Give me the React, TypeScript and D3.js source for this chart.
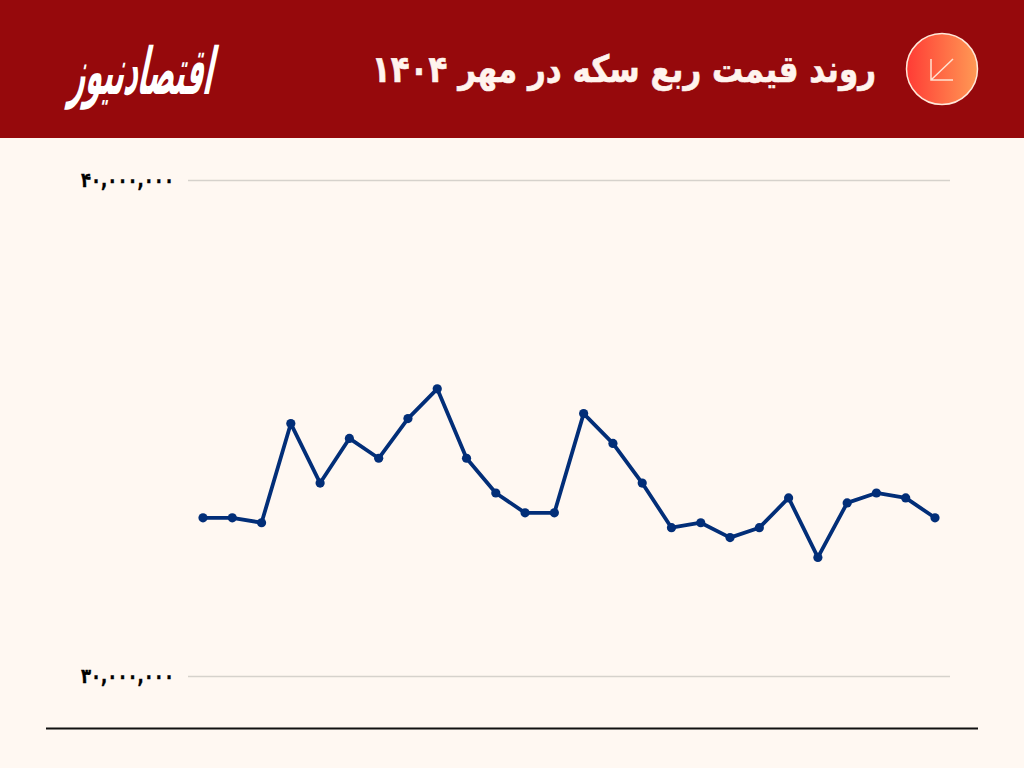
import React from "react";
import * as d3 from "d3";

const days = d3.range(1, 27);
const prices = [33.2, 33.2, 33.1, 35.1, 33.9, 34.8, 34.4, 35.2, 35.8, 34.4, 33.7, 33.3, 33.3, 35.3, 34.7, 33.9, 33.0, 33.1, 32.8, 33.0, 33.6, 32.4, 33.5, 33.7, 33.6, 33.2].map((v) => v * 1e6);
const ticks = [30000000, 40000000];
const tickLabels = ["۳۰,۰۰۰,۰۰۰", "۴۰,۰۰۰,۰۰۰"];
const title = "روند قیمت ربع سکه در مهر ۱۴۰۴";
const logo = "اقتصادنیوز";

export default function App() {
  const x = d3.scalePoint<number>().domain(days).range([203, 935]);
  const y = d3.scaleLinear().domain([30000000, 40000000]).range([676.5, 180.5]);
  const line = d3.line<number>().x((_, i) => x(days[i])!).y((d) => y(d));
  const font = "'DejaVu Sans', 'Noto Sans', sans-serif";
  return (
    <svg width={1024} height={768} style={{ position: "absolute", left: 0, top: 0 }}>
      <defs>
        <linearGradient id="g" x1="0" x2="1" y1="0" y2="0">
          <stop offset="0" stopColor="#ff3b35" />
          <stop offset="1" stopColor="#ff9a55" />
        </linearGradient>
      </defs>
      <rect width={1024} height={768} fill="#fff8f2" />
      <rect width={1024} height={138} fill="#96090c" />
      <circle cx={942} cy={69} r={35.5} fill="url(#g)" stroke="#ffe9da" strokeWidth={1.5} />
      <path d="M953 59 L931 80 M931 59 V80 H953" fill="none" stroke="#ffe3d2" strokeWidth={1.5} />
      <text transform="translate(876,82) scale(1,1.2)" direction="rtl" textAnchor="start" fill="#fff4ee" stroke="#fff4ee" strokeWidth={0.5} fontFamily={font} fontWeight={700} fontSize={31}>{title}</text>
      <text transform="translate(211,94) skewX(-12) scale(0.75,1.8)" direction="rtl" textAnchor="start" fill="#fff" fontFamily={font} fontWeight={700} fontSize={36}>{logo}</text>
      {ticks.map((t, i) => (
        <g key={t}>
          <line x1={188} x2={950} y1={y(t)} y2={y(t)} stroke="#d6d2cc" strokeWidth={1.4} />
          <text transform={`translate(174,${y(t) + 6}) scale(1,1.25)`} textAnchor="end" direction="ltr" stroke="#000" strokeWidth={0.3} fontFamily={font} fontWeight={700} fontSize={16.5} fill="#000">{tickLabels[i]}</text>
        </g>
      ))}
      <path d={line(prices)!} fill="none" stroke="#022e78" strokeWidth={3.8} strokeLinejoin="round" />
      {prices.map((p, i) => (
        <circle key={i} cx={x(days[i])!} cy={y(p)} r={4.6} fill="#022e78" />
      ))}
      <line x1={46} x2={978} y1={728.5} y2={728.5} stroke="#111" strokeWidth={2} />
    </svg>
  );
}
